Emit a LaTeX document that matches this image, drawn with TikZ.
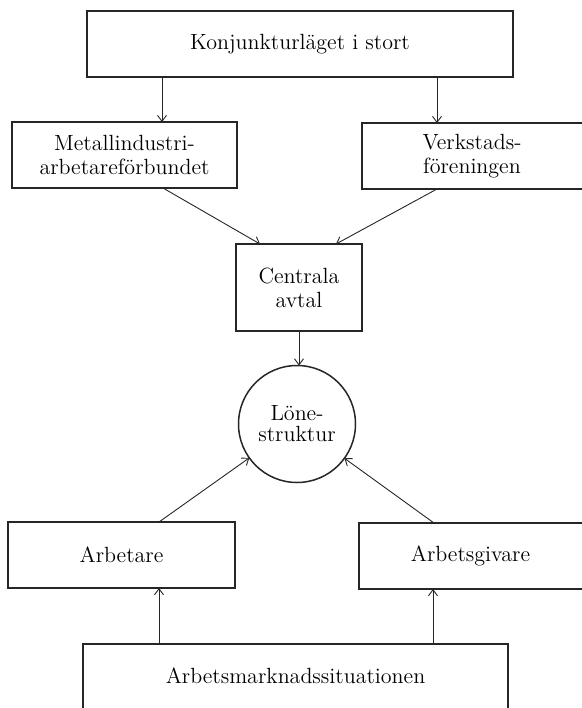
\documentclass[tikz,border=0pt]{standalone}
\usepackage{tikz}
\usetikzlibrary{arrows.meta}
\tikzset{
block/.style={
draw=black!85,
line width=0.75pt,
minimum height=33pt,
inner sep=0pt,
outer sep=0pt,
align=center,
font=\fontsize{11}{12}\selectfont
},
cutblock/.style={
block,
draw=none
},
frame/.style={
draw=black!85,
line width=0.75pt
},
wage/.style={
block,
circle,
minimum size=58.5pt,
font=\fontsize{11}{10.5}\selectfont
},
arrow/.style={
-{Straight Barb[length=3pt,width=4.5pt]},
draw=black!85,
line width=0.45pt
}
}
\begin{document}
\begin{tikzpicture}[x=0.5pt,y=-0.5pt]
\useasboundingbox (0,0) rectangle (582,708);

\node[block,minimum width=213pt](top) at (300,44){Konjunkturläget i stort};
\node[block,minimum width=112.5pt](metall) at (124.5,155){Metallindustri-\\arbetareförbundet};
\node[cutblock,minimum width=110pt](verk) at (472,156){Verkstads-\\föreningen};
\node[block,minimum width=63pt,minimum height=43.5pt](cent) at (299,287.5){Centrala\\avtal};
\node[wage](lon) at (297,424){Löne-\\struktur};
\node[block,minimum width=113.5pt](arb) at (121.5,555){Arbetare};
\node[cutblock,minimum width=111.5pt](giv) at (470.5,556){Arbetsgivare};
\node[cutblock,minimum width=212.5pt,minimum height=32pt](mark) at (295.5,676){Arbetsmarknadssituationen};

% boxes running off the page edge
\draw[frame](verk.north east)--(verk.north west)--(verk.south west)--(verk.south east);
\draw[frame](giv.north east)--(giv.north west)--(giv.south west)--(giv.south east);
\draw[frame](mark.south west)--(mark.north west)--(mark.north east)--(mark.south east);

\foreach \a/\b/\x in {top/metall/162,top/verk/437}
\draw[arrow](\x,0 |- \a.south)--(\x,0 |- \b.north);
\foreach \a/\b/\x in {mark/arb/159,mark/giv/433}
\draw[arrow](\x,0 |- \a.north)--(\x,0 |- \b.south);
\draw[arrow](163,0 |- metall.south)--(260,0 |- cent.north);
\draw[arrow](437,0 |- verk.south)--(336,0 |- cent.north);
\draw[arrow](cent.south)--(cent.south |- lon.north);
\draw[arrow](159,0 |- arb.north)--(lon);
\draw[arrow](434,0 |- giv.north)--(lon);

\end{tikzpicture}
\end{document}
